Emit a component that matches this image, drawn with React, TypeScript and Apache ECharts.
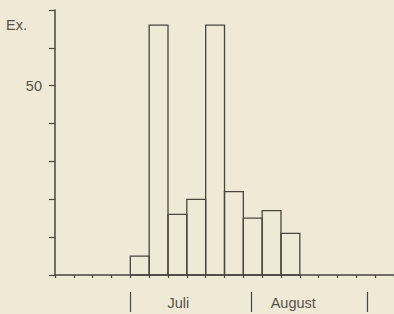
import React, { useEffect, useRef } from "react";
import * as echarts from "echarts";

// Pentad bins (5-day periods) — bin index of left edge, and counts
const binStarts = [4, 5, 6, 7, 8, 9, 10, 11, 12];
const counts = [5, 66, 16, 20, 66, 22, 15, 17, 11];
const yTickLabels = [50];
const monthBoundaries = [4, 10.4, 16.6];
const monthNames = ["Juli", "August"];
const monthLabelPos = [6.55, 12.65];

const INK = "#4a453e";
const TEXT = "#57524a";
const BG = "#efe9d6";
const FONT = "'Liberation Sans', 'DejaVu Sans', sans-serif";

export default function App() {
  const ref = useRef<HTMLDivElement>(null);
  useEffect(() => {
    document.body.style.margin = "0";
    const chart = echarts.init(ref.current!, null, { renderer: "svg" });
    const data = binStarts.map((s, i) => [s, s + 1, counts[i]]);
    chart.setOption({
      animation: false,
      backgroundColor: BG,
      grid: { left: 55, right: 0, top: 10, bottom: 39 },
      xAxis: [
        {
          type: "value",
          min: 0,
          max: 18,
          interval: 1,
          axisLine: { show: true, lineStyle: { color: INK, width: 1.5 } },
          axisTick: { show: true, length: 3, lineStyle: { color: INK, width: 1.2 } },
          axisLabel: { show: false },
          splitLine: { show: false },
        },
        {
          type: "value",
          min: 0,
          max: 18,
          position: "bottom",
          offset: 17,
          axisLine: { show: false },
          axisTick: {
            show: true,
            length: 20,
            customValues: monthBoundaries,
            lineStyle: { color: INK, width: 1.2 },
          },
          axisLabel: {
            show: true,
            customValues: monthLabelPos,
            margin: 3,
            color: TEXT,
            fontFamily: FONT,
            fontSize: 14.5,
            formatter: (v: number) => {
              const idx = monthLabelPos.findIndex((p) => Math.abs(p - v) < 1e-6);
              return idx >= 0 ? monthNames[idx] : "";
            },
          },
          splitLine: { show: false },
        },
      ],
      yAxis: {
        type: "value",
        min: 0,
        max: 70,
        interval: 10,
        axisLine: { show: true, lineStyle: { color: INK, width: 1.5 } },
        axisTick: { show: true, length: 6, lineStyle: { color: INK, width: 1.2 } },
        axisLabel: {
          show: true,
          color: TEXT,
          fontFamily: FONT,
          fontSize: 14.5,
          margin: 13,
          formatter: (v: number) => (yTickLabels.includes(v) ? String(v) : ""),
        },
        splitLine: { show: false },
      },
      graphic: [
        {
          type: "text",
          left: 6,
          top: 17,
          style: { text: "Ex.", fill: TEXT, font: `14.5px ${FONT}` },
        },
      ],
      series: [
        {
          type: "custom",
          xAxisIndex: 0,
          data,
          renderItem: (params: any, api: any) => {
            const p0 = api.coord([api.value(0), api.value(2)]);
            const p1 = api.coord([api.value(1), 0]);
            return {
              type: "rect",
              shape: { x: p0[0], y: p0[1], width: p1[0] - p0[0], height: p1[1] - p0[1] },
              style: { fill: "rgba(0,0,0,0)", stroke: INK, lineWidth: 1.3 },
            };
          },
        },
      ],
    });
    return () => chart.dispose();
  }, []);
  return <div ref={ref} style={{ width: 394, height: 314 }} />;
}
